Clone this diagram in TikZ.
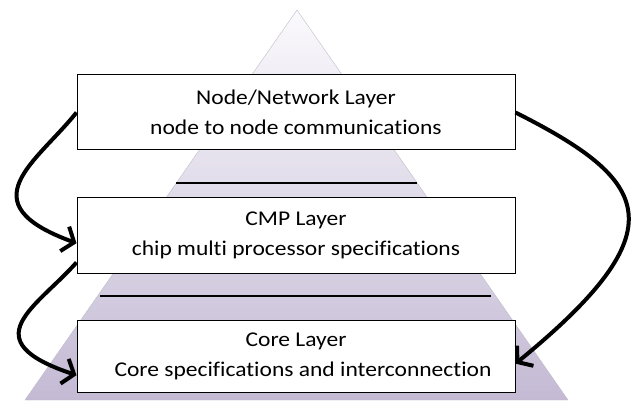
\documentclass[tikz,border=0pt]{standalone}
\usepackage{fontspec}
\setmainfont{Carlito}[Ligatures = NoCommon, FakeStretch = 1.12]
\usetikzlibrary{arrows.meta}
\definecolor{pyrlow}{RGB}{196,186,212}
\definecolor{pyrtop}{RGB}{250,249,252}
\definecolor{pyredge}{RGB}{192,188,202}

\begin{document}
\begin{tikzpicture}[x = 1pt, y = -1pt,
    layer/.style = {draw, fill = white, line width = 1pt, minimum width = 438pt, minimum height = 75pt, align = center, inner sep = 0pt, font = \fontsize{21}{30}\selectfont},
    loop/.style = {line width = 4pt, -{Straight Barb[length = 10pt, width = 26pt, line width = 4pt]}}]
        \useasboundingbox (0,0) rectangle (631,403);
        \shadedraw[top color = pyrtop, bottom color = pyrlow, draw = pyredge] (297,10) -- (568,400) -- (25,400) -- cycle;
        \draw[line width = 1.2pt] (176,183) -- (417,183);
        \draw[line width = 1.2pt] (100,296) -- (491,296);
        \node[layer] (net) at (296,112.5) {Node/Network Layer\\node to node communications};
        \node[layer] (cmp) at (296,235.5) {CMP Layer\\chip multi processor specifications};
        \node[layer, minimum height = 72pt] (core) at (296,356) {Core Layer\\\hspace*{14pt}Core specifications and interconnection};
        \draw[loop] (net.west) .. controls +(-40,50) and +(-110,-40) .. (cmp.182);
        \draw[loop] (cmp.187) .. controls +(-40,45) and +(-105,-35) .. (core.185);
        \draw[loop] (net.east) .. controls +(135,68) and +(165,-135) .. (core.-2);
    \end{tikzpicture}
\end{document}
